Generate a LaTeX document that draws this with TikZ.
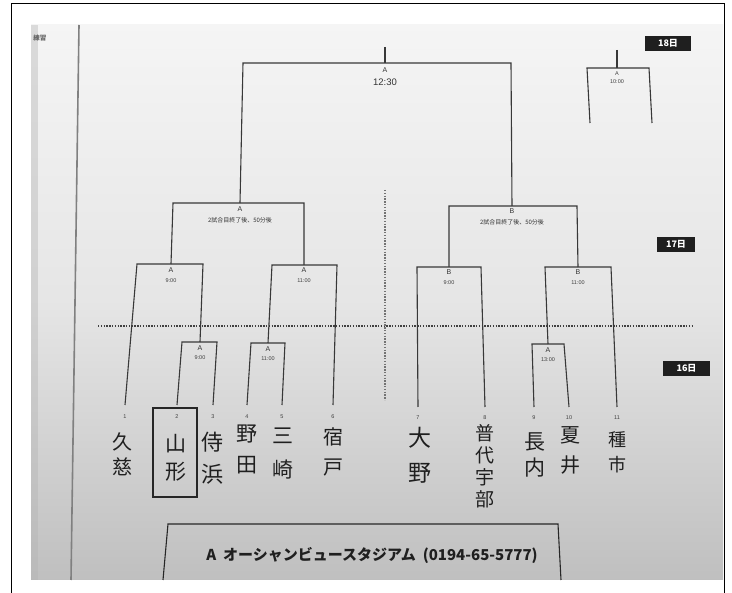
\documentclass[tikz,border=0pt]{standalone}
\usepackage{fontspec}
\setmainfont{Liberation Sans}
\newfontfamily\jp{Noto Sans CJK JP}
\begin{document}
\begin{tikzpicture}[x=1pt,y=-1pt,
  brk/.style={draw=black!78, line width=1.1pt},
  dots/.style={draw=black!75, line width=1.3pt, dash pattern=on 1.4pt off 1.4pt},
  lbl/.style={inner sep=0pt, text=black!80, font=\fontsize{7}{8}\selectfont},
  tm/.style={inner sep=0pt, text=black!75, font=\fontsize{5.5}{6}\selectfont},
  num/.style={inner sep=0pt, text=black!75, font=\fontsize{5.5}{6}\selectfont},
  note/.style={inner sep=0pt, text=black!80, font=\jp\fontsize{6}{7}\selectfont},
  hand/.style={inner sep=0pt, align=center, text=black!88},
  day/.style={fill=black!88, text=white, inner sep=0pt, minimum height=15pt, font=\jp\bfseries\fontsize{9}{10}\selectfont}
]
\useasboundingbox (0,0) rectangle (732,593);
\fill[white] (0,0) rectangle (732,593);
\shade[top color=white!96!black, bottom color=black!25, middle color=white!90!black] (31,25) rectangle (723,580);
\fill[black!30, opacity=0.4] (31,25) rectangle (38,580);
\draw[black!50, line width=1.6pt] (79,25) -- (71,580);
\draw[black, line width=1pt] (11,593) -- (11,4) -- (724,4) -- (724,593);
\node[inner sep=0pt, text=black!60, font=\jp\bfseries\fontsize{6.5}{7}\selectfont] (corner) at (40,38) {練習};

% day boxes
\node[day, minimum width=46pt] (d18) at (668,43.5) {18日};
\node[day, minimum width=38pt] (d17) at (676,244.5) {17日};
\node[day, minimum width=47pt] (d16) at (686.5,368.5) {16日};

% dotted separators
\coordinate (hl) at (98,326); \coordinate (hr) at (692,326);
\coordinate (vt) at (385,190); \coordinate (vb) at (385,400);
\draw[dots] (hl) -- (hr);
\draw[dots, draw=black!55] (vt) -- (vb);

% final
\coordinate (f0) at (385,47); \coordinate (fc) at (385,63);
\coordinate (fl) at (243,63); \coordinate (fr) at (511,63);
\coordinate (sl) at (240,203); \coordinate (sr) at (512,206);
\draw[brk] (f0) -- (fc);
\draw[brk] (sl) -- (fl) -- (fr) -- (sr);
\node[lbl] (fa) at (385,70) {A};
\node[inner sep=0pt, text=black!80, font=\fontsize{9.5}{10}\selectfont] (ft) at (385,82) {12:30};

% 18th small bracket
\coordinate (g0) at (617,50); \coordinate (gc) at (617,68);
\coordinate (gl) at (587,68); \coordinate (gr) at (649,68);
\coordinate (glb) at (590,123); \coordinate (grb) at (652,123);
\draw[brk] (g0) -- (gc);
\draw[brk] (glb) -- (gl) -- (gr) -- (grb);
\node[tm] (ga) at (617,74) {A};
\node[tm] (gt) at (617,82) {10:00};

% left semifinal
\coordinate (lsl) at (173,203); \coordinate (lsr) at (304,203);
\coordinate (q1) at (171,264); \coordinate (q2) at (304,265);
\draw[brk] (q1) -- (lsl) -- (lsr) -- (q2);
\node[lbl] (lsa) at (240,209) {A};
\node[note] (lsn) at (240,220) {2試合目終了後、50分後};

% right semifinal
\coordinate (rsl) at (449,206); \coordinate (rsr) at (577,206);
\coordinate (q3) at (449,267); \coordinate (q4) at (578,267);
\draw[brk] (q3) -- (rsl) -- (rsr) -- (q4);
\node[lbl] (rsa) at (512,211) {B};
\node[note] (rsn) at (512,222) {2試合目終了後、50分後};

% team anchors
\coordinate (t1) at (125,405); \coordinate (t2) at (177,405);
\coordinate (t3) at (213,405); \coordinate (t4) at (247,405);
\coordinate (t5) at (282,405); \coordinate (t6) at (333,405);
\coordinate (t7) at (418,407); \coordinate (t8) at (485,407);
\coordinate (t9) at (534,407); \coordinate (t10) at (569,407);
\coordinate (t11) at (617,407);

% QF A 9:00
\coordinate (a1l) at (137,264); \coordinate (a1r) at (203,264);
\coordinate (r1) at (200,342);
\draw[brk] (t1) -- (a1l) -- (a1r) -- (r1);
\node[lbl] at (171,270) {A};
\node[tm] at (171,281) {9:00};
% R1 A 9:00
\coordinate (b1l) at (182,342); \coordinate (b1r) at (217,342);
\draw[brk] (t2) -- (b1l) -- (b1r) -- (t3);
\node[lbl] at (200,348) {A};
\node[tm] at (200,358) {9:00};

% QF A 11:00
\coordinate (a2l) at (272,265); \coordinate (a2r) at (337,265);
\coordinate (r2) at (268,343);
\draw[brk] (r2) -- (a2l) -- (a2r) -- (t6);
\node[lbl] at (304,270) {A};
\node[tm] at (304,281) {11:00};
% R1 A 11:00
\coordinate (b2l) at (251,343); \coordinate (b2r) at (285,343);
\draw[brk] (t4) -- (b2l) -- (b2r) -- (t5);
\node[lbl] at (268,349) {A};
\node[tm] at (268,359) {11:00};

% QF B 9:00
\coordinate (a3l) at (417,267); \coordinate (a3r) at (481,267);
\draw[brk] (t7) -- (a3l) -- (a3r) -- (t8);
\node[lbl] at (449,272) {B};
\node[tm] at (449,283) {9:00};

% QF B 11:00
\coordinate (a4l) at (545,267); \coordinate (a4r) at (611,267);
\coordinate (r4) at (548,344);
\draw[brk] (r4) -- (a4l) -- (a4r) -- (t11);
\node[lbl] at (578,272) {B};
\node[tm] at (578,283) {11:00};
% R1 A 13:00
\coordinate (b4l) at (532,344); \coordinate (b4r) at (564,344);
\draw[brk] (t9) -- (b4l) -- (b4r) -- (t10);
\node[lbl] at (548,350) {A};
\node[tm] at (548,360) {13:00};

% numbers
\node[num] (n1) at (125,417) {1};
\node[num] (n2) at (177,417) {2};
\node[num] (n3) at (213,417) {3};
\node[num] (n4) at (247,417) {4};
\node[num] (n5) at (282,417) {5};
\node[num] (n6) at (333,417) {6};
\node[num] (n7) at (418,418) {7};
\node[num] (n8) at (485,418) {8};
\node[num] (n9) at (534,418) {9};
\node[num] (n10) at (569,418) {10};
\node[num] (n11) at (617,418) {11};

% team names
\node[hand, font=\jp\fontsize{20}{25}\selectfont] (k1) at (122,454) {久\\慈};
\node[hand, font=\jp\fontsize{21}{28}\selectfont] (k2) at (176,458) {山\\形};
\draw[black!85, line width=1.2pt] (153,408) rectangle (197,497);
\node[hand, font=\jp\fontsize{22}{32}\selectfont] (k3) at (212,458) {侍\\浜};
\node[hand, font=\jp\fontsize{21}{31}\selectfont] (k4) at (247,449) {野\\田};
\node[hand, font=\jp\fontsize{21}{34}\selectfont] (k5) at (283,454) {三\\崎};
\node[hand, font=\jp\fontsize{20}{30}\selectfont] (k6) at (333,452) {宿\\戸};
\node[hand, font=\jp\fontsize{23}{35}\selectfont] (k7) at (420,455) {大\\野};
\node[hand, font=\jp\fontsize{19}{22}\selectfont] (k8) at (485,466) {普\\代\\宇\\部};
\node[hand, font=\jp\fontsize{21}{26}\selectfont] (k9) at (535,455) {長\\内};
\node[hand, font=\jp\fontsize{20}{30}\selectfont] (k10) at (570,450) {夏\\井};
\node[hand, font=\jp\fontsize{18}{25}\selectfont] (k11) at (617,452) {種\\市};

% venue box
\coordinate (vl) at (163,580); \coordinate (vtl) at (168,524);
\coordinate (vtr) at (558,524); \coordinate (vr) at (561,580);
\draw[black!85, line width=1.1pt] (vl) -- (vtl) -- (vtr) -- (vr);
\node[inner sep=0pt, text=black!88, font=\jp\bfseries\fontsize{15}{16}\selectfont] (venue) at (372,555) {A\ \ オーシャンビュースタジアム\ \ (0194-65-5777)};
\end{tikzpicture}
\end{document}
